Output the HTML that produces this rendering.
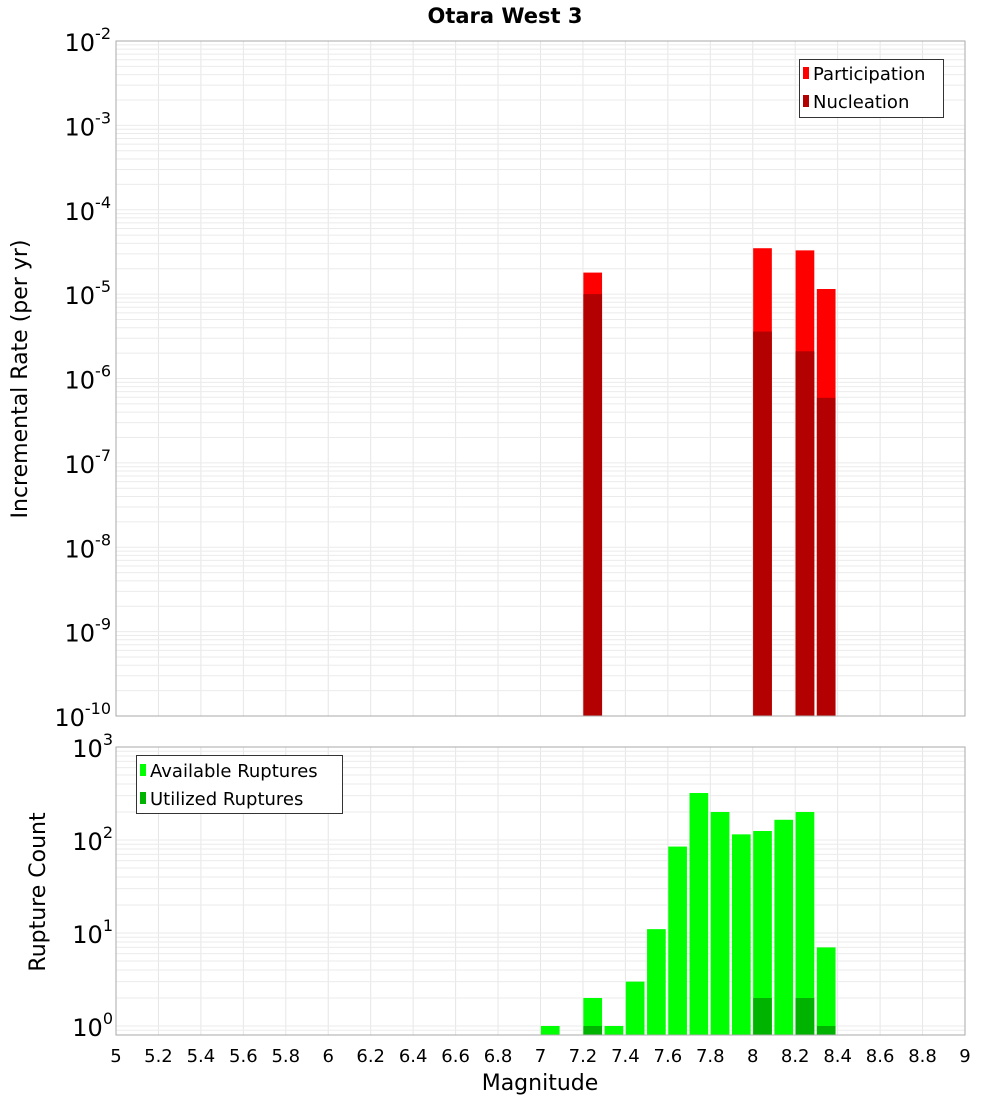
<!DOCTYPE html>
<html><head><meta charset="utf-8"><style>
body{margin:0;background:#fff;font-family:"Liberation Sans","DejaVu Sans",sans-serif}
svg text{font-family:"DejaVu Sans","Liberation Sans",sans-serif}
</style></head><body>
<svg id="c" width="1000" height="1100" xmlns="http://www.w3.org/2000/svg"></svg>
<script>
const binCentersTop=[7.25,8.05,8.25,8.35];
const participation=[1.8e-5,3.5e-5,3.3e-5,1.15e-5];
const nucleation=[1.0e-5,3.6e-6,2.1e-6,5.9e-7];
const binCentersBot=[7.05,7.25,7.35,7.45,7.55,7.65,7.75,7.85,7.95,8.05,8.15,8.25,8.35];
const available=[1,2,1,3,11,85,320,200,115,125,165,200,7];
const utilized=[0,1,0,0,0,0,0,0,0,2,0,2,1];
const xTicks=[5,5.2,5.4,5.6,5.8,6,6.2,6.4,6.6,6.8,7,7.2,7.4,7.6,7.8,8,8.2,8.4,8.6,8.8,9];
const topExps=[-2,-3,-4,-5,-6,-7,-8,-9,-10];
const botExps=[3,2,1,0];

const svg=document.getElementById('c');
const NS='http://www.w3.org/2000/svg';
function mk(t,a,p){const e=document.createElementNS(NS,t);for(const k in a)e.setAttribute(k,a[k]);(p||svg).appendChild(e);return e;}
const X0=116,X1=965;
const xs=m=>X0+(m-5)/4*(X1-X0);
const T0=41,T1=716;
const yTop=v=>T0+(-2-Math.log10(v))*(T1-T0)/8;
const B0=747,Bdec=93;
const yBot=v=>B0+(3-Math.log10(v))*Bdec;
const B1=1035;

function grid(y0,y1,ymap,lo,hi,name){
  const g=mk('g',{});
  
  
  for(const t of xTicks){mk('line',{x1:xs(t),x2:xs(t),y1:y0,y2:y1,stroke:'#e6e6e6','stroke-width':1},g);}
  for(let e=lo;e<hi;e++)for(let k=1;k<10;k++){const y=ymap(k*Math.pow(10,e));if(y>=y0&&y<=y1)mk('line',{x1:X0,x2:X1,y1:y,y2:y,stroke:'#ebebeb','stroke-width':1},g);}
}
grid(T0,T1,yTop,-10,-2,'top-grid');
grid(B0,B1,yBot,-1,3,'bottom-grid');

// top bars
for(let i=0;i<binCentersTop.length;i++){
  const l=xs(binCentersTop[i]-0.048),w=xs(0.088+5)-X0;
  let r=mk('rect',{x:l,y:yTop(participation[i]),width:w,height:T1-yTop(participation[i]),fill:'#ff0000'});
  
  
  r=mk('rect',{x:l,y:yTop(nucleation[i]),width:w,height:T1-yTop(nucleation[i]),fill:'#b30000'});
  
  
}
// bottom bars
for(let i=0;i<binCentersBot.length;i++){
  const l=xs(binCentersBot[i]-0.048),w=xs(0.088+5)-X0;
  let r=mk('rect',{x:l,y:yBot(available[i]),width:w,height:B1-yBot(available[i]),fill:'#00ff00'});
  
  
  if(utilized[i]>0){
    r=mk('rect',{x:l,y:yBot(utilized[i]),width:w,height:B1-yBot(utilized[i]),fill:'#00b300'});
    
    
  }
}
mk('rect',{x:X0,y:T0,width:X1-X0,height:T1-T0,fill:'none',stroke:'#aaa'});
mk('rect',{x:X0,y:B0,width:X1-X0,height:B1-B0,fill:'none',stroke:'#aaa'});

// y tick labels
for(const e of topExps){
  const t=mk('text',{x:111,y:yTop(Math.pow(10,e))+10,'text-anchor':'end','font-size':24,fill:'#000'});
  
  
  t.innerHTML='10<tspan dy="-12" font-size="16">'+e+'</tspan>';
}
for(const e of botExps){
  const t=mk('text',{x:113,y:yBot(Math.pow(10,e))+10,'text-anchor':'end','font-size':24,fill:'#000'});
  
  
  t.innerHTML='10<tspan dy="-12" font-size="16">'+e+'</tspan>';
}
for(const m of xTicks){
  const t=mk('text',{x:xs(m),y:1062,'text-anchor':'middle','font-size':18,fill:'#000'});
  
  
  t.textContent=String(m);
}
</script>
<svg style="position:absolute;left:0;top:0" width="1000" height="1100" xmlns="http://www.w3.org/2000/svg">
<text x="505" y="23" text-anchor="middle" font-size="21" font-weight="bold" font-family="DejaVu Sans,sans-serif">Otara West 3</text>
<text transform="translate(27,379) rotate(-90)" text-anchor="middle" font-size="22" font-family="DejaVu Sans,sans-serif">Incremental Rate (per yr)</text>
<text transform="translate(45,892) rotate(-90)" text-anchor="middle" font-size="22" font-family="DejaVu Sans,sans-serif">Rupture Count</text>
<text x="540" y="1090" text-anchor="middle" font-size="22" font-family="DejaVu Sans,sans-serif">Magnitude</text>
<g>
<rect x="799.5" y="59.5" width="144" height="58" fill="#fff" stroke="#333"/>
<rect x="803" y="67" width="6" height="12" fill="#ff0000"/>
<text x="813" y="80" font-size="18" font-family="DejaVu Sans,sans-serif">Participation</text>
<rect x="803" y="95" width="6" height="12" fill="#b30000"/>
<text x="813" y="108" font-size="18" font-family="DejaVu Sans,sans-serif">Nucleation</text>
</g>
<g>
<rect x="136.5" y="755.5" width="206" height="58" fill="#fff" stroke="#333"/>
<rect x="140" y="764" width="6" height="12" fill="#00ff00"/>
<text x="150" y="777" font-size="18" font-family="DejaVu Sans,sans-serif">Available Ruptures</text>
<rect x="140" y="792" width="6" height="12" fill="#00b300"/>
<text x="150" y="805" font-size="18" font-family="DejaVu Sans,sans-serif">Utilized Ruptures</text>
</g>
</svg>
</body></html>
